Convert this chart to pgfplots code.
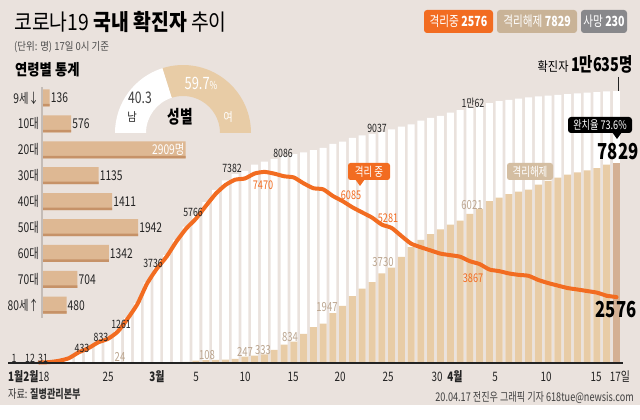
\documentclass[border=0pt]{standalone}
\usepackage{fontspec}
\usepackage{graphicx}
\usepackage{pgfplots}
\usepackage{pgfplotstable}
\pgfplotsset{compat=1.18}
\setmainfont{Noto Sans CJK KR}
\newfontfamily\cf[FakeStretch=0.76]{Noto Sans CJK KR}
\newfontfamily\tf[FakeStretch=0.86]{Noto Sans CJK KR}
\definecolor{bg}{RGB}{234,226,221}
\definecolor{org}{RGB}{242,108,33}
\definecolor{tanbar}{RGB}{232,204,166}
\definecolor{tanlast}{RGB}{212,176,148}
\definecolor{tanleg}{RGB}{201,179,151}
\definecolor{tanlab}{RGB}{212,190,162}
\definecolor{graylg}{RGB}{136,136,139}
\definecolor{agebar}{RGB}{222,184,147}
\definecolor{agestr}{RGB}{198,146,104}
\definecolor{reltxt}{RGB}{188,166,144}
\definecolor{dtxt}{RGB}{35,35,35}
\definecolor{panline}{RGB}{196,188,183}
\newcommand{\fs}[1]{\fontsize{#1}{#1}\selectfont}

% day index from 18 Feb (0) to 17 Apr (59); confirmed, released, isolated
\pgfplotstableread{
d c r i
0 31 12 19
1 51 16 35
2 104 16 87
3 204 16 187
4 433 16 415
5 602 18 578
6 833 18 807
7 977 22 945
8 1261 24 1225
9 1766 25 1728
10 2337 27 2297
11 3150 28 3105
12 3736 30 3688
13 4212 31 4159
14 4812 34 4750
15 5328 41 5255
16 5766 88 5643
17 6284 108 6134
18 6767 118 6605
19 7134 130 6954
20 7382 166 7165
21 7513 247 7212
22 7755 288 7407
23 7869 333 7470
24 7979 510 7402
25 8086 714 7300
26 8162 834 7253
27 8236 1137 7024
28 8320 1407 6832
29 8413 1540 6789
30 8565 1947 6527
31 8652 2233 6325
32 8799 2612 6085
33 8897 2909 5884
34 8961 3166 5684
35 9037 3507 5410
36 9137 3730 5281
37 9241 4144 4966
38 9332 4528 4665
39 9478 4811 4523
40 9583 5033 4398
41 9661 5228 4275
42 9786 5408 4216
43 9887 5567 4155
44 9976 5828 3979
45 10062 6021 3867
46 10156 6325 3654
47 10237 6463 3591
48 10284 6598 3500
49 10331 6694 3445
50 10384 6776 3408
51 10423 6973 3246
52 10450 7117 3125
53 10480 7243 3026
54 10512 7368 2930
55 10537 7447 2873
56 10564 7534 2813
57 10591 7616 2750
58 10613 7757 2627
}\data

\begin{document}
\begin{tikzpicture}[x=1pt,y=1pt]
\fill[white] (0,0) rectangle (640,420);
\fill[bg] (0,15) rectangle (640,420);

% ---------- main chart ----------
\begin{axis}[at={(0pt,0pt)}, anchor=south west, width=640pt, height=420pt,
  scale only axis, axis lines=none, clip=false,
  xmin=-4.0389, xmax=61.401, ymin=-2228.1, ymax=14189.7,
  xtick=\empty, ytick=\empty]
\addplot[ybar, bar width=7pt, bar shift=0pt, fill=white, draw=none]
  table[x=d,y=c] {\data};
\addplot[ybar, bar width=7pt, bar shift=0pt, fill=white, draw=none]
  coordinates {(59,10635)};
\addplot[ybar, bar width=7pt, bar shift=0pt, fill=tanbar, draw=none]
  table[x=d,y=r] {\data};
\addplot[ybar, bar width=7pt, bar shift=0pt, fill=tanlast, draw=none]
  coordinates {(59,7829)};
\addplot[org, line width=4pt, line join=round, line cap=round, smooth, tension=0.35]
  table[x=d,y=i] {\data};
\addplot[org, line width=4pt, line join=round, line cap=round]
  coordinates {(58,2627) (59,2576)};
\draw[dtxt, line width=1.4pt] (axis cs:-3.2,0) -- (axis cs:59.7,0);
\end{axis}

% ---------- age statistics ----------
\begin{axis}[at={(43pt,102pt)}, anchor=south west, width=200pt, height=233pt,
  scale only axis, axis lines=none, clip=false,
  xmin=0, xmax=4082, ymin=-0.494, ymax=8.502,
  xtick=\empty, ytick=\empty]
\addplot[xbar, bar width=17pt, bar shift=0pt, fill=agebar, draw=none]
  coordinates {(136,8) (576,7) (2909,6) (1135,5) (1411,4) (1942,3) (1342,2) (704,1) (480,0)};
\addplot[xbar, bar width=2.5pt, bar shift=-7.25pt, fill=agestr, draw=none]
  coordinates {(136,8) (576,7) (2909,6) (1135,5) (1411,4) (1942,3) (1342,2) (704,1) (480,0)};
\begin{scope}[every node/.style={font=\cf\fs{13.5}, text=dtxt, inner sep=1pt}]
\node[anchor=west] at (axis cs:136,8) {136};
\node[anchor=west] at (axis cs:576,7) {576};
\node[anchor=east, text=white] at (axis cs:2909,6) {2909명};
\node[anchor=west] at (axis cs:1135,5) {1135};
\node[anchor=west] at (axis cs:1411,4) {1411};
\node[anchor=west] at (axis cs:1942,3) {1942};
\node[anchor=west] at (axis cs:1342,2) {1342};
\node[anchor=west] at (axis cs:704,1) {704};
\node[anchor=west] at (axis cs:480,0) {480};
\node[anchor=east, xshift=-3pt] at (axis cs:0,8) {9세↓};
\node[anchor=east, xshift=-3pt] at (axis cs:0,7) {10대};
\node[anchor=east, xshift=-3pt] at (axis cs:0,6) {20대};
\node[anchor=east, xshift=-3pt] at (axis cs:0,5) {30대};
\node[anchor=east, xshift=-3pt] at (axis cs:0,4) {40대};
\node[anchor=east, xshift=-3pt] at (axis cs:0,3) {50대};
\node[anchor=east, xshift=-3pt] at (axis cs:0,2) {60대};
\node[anchor=east, xshift=-3pt] at (axis cs:0,1) {70대};
\node[anchor=east, xshift=-3pt] at (axis cs:0,0) {80세↑};
\end{scope}
\end{axis}

% ---------- gender half donut ----------
\pgfmathsetmacro\ang{180-180*40.3/100}
\fill[white] ([shift={(183,287)}]180:68) arc[start angle=180,end angle=\ang,radius=68]
  -- ([shift={(183,287)}]\ang:37) arc[start angle=\ang,end angle=180,radius=37] -- cycle;
\fill[tanbar] ([shift={(183,287)}]\ang:68) arc[start angle=\ang,end angle=0,radius=68]
  -- ([shift={(183,287)}]0:37) arc[start angle=0,end angle=\ang,radius=37] -- cycle;

% ---------- texts in pixel coordinates ----------
\begin{scope}[x=1pt,y=-1pt,yshift=420pt]
\fill[panline] (41,87) rectangle (43,318);
\node[anchor=base west, inner sep=0] at (14,31) {\tf\fs{22.5}코로나19 {\bfseries 국내 확진자} 추이};
\node[anchor=base west, inner sep=0, text=black!70] at (14,51) {\tf\fs{11}(단위: 명) 17일 0시 기준};

\fill[org, rounded corners=3pt] (424,10) rectangle (493,33);
\node[text=white] at (458.5,21.5) {\cf\fs{14}격리중 \textbf{2576}};
\fill[tanleg, rounded corners=3pt] (497,10) rectangle (577,33);
\node[text=white] at (537,21.5) {\cf\fs{14}격리해제 \textbf{7829}};
\fill[graylg, rounded corners=3pt] (581,10) rectangle (627,33);
\node[text=white] at (604,21.5) {\cf\fs{14}사망 \textbf{230}};

\node[anchor=base west, inner sep=0] at (15,76) {\tf\fs{15.5}\bfseries 연령별 통계};

% donut texts
\node[text=black!75] at (140,98) {\cf\fs{16}40.3};
\node[text=black!85] at (132,117) {\tf\fs{12}남};
\node[text=white] at (201,83) {\cf\fs{17}59.7{\fs{11}\%}};
\node[text=white] at (228,117) {\tf\fs{12}여};
\node[text=black] at (180,117) {\cf\fs{18}\bfseries 성별};

% confirmed labels
\begin{scope}[every node/.style={font=\cf\fs{11.5}, text=dtxt, inner sep=0}]
\node at (14,358) {1};
\node at (30,358) {12};
\node at (43,358) {31};
\node at (82,348) {433};
\node at (101,337) {833};
\node at (121,324) {1261};
\node at (153,263) {3736};
\node at (193,212) {5766};
\node at (232,168) {7382};
\node at (283,153) {8086};
\node at (377,128) {9037};
\node at (473,103) {1만62};
\end{scope}
% released labels
\begin{scope}[every node/.style={font=\cf\fs{12.5}, text=reltxt, inner sep=0}]
\node at (120,357) {24};
\node at (207,355) {108};
\node at (245,352) {247};
\node at (263,350) {333};
\node at (290,337) {834};
\node at (327,307) {1947};
\node at (383,262) {3730};
\node at (472,205) {6021};
\end{scope}
% isolated labels
\begin{scope}[every node/.style={font=\cf\fs{12}, text=org, inner sep=0}]
\node at (263,185) {7470};
\node at (351,195) {6085};
\node at (388,218) {5281};
\node at (473,278) {3867};
\end{scope}

% x axis labels
\begin{scope}[every node/.style={font=\cf\fs{13}, text=dtxt, inner sep=0}]
\node[anchor=west] at (8,377) {\textbf{1월2월}18};
\node at (108,377) {25};
\node at (157,377) {\textbf{3월}};
\node at (196,377) {5};
\node at (245,377) {10};
\node at (293,377) {15};
\node at (340,377) {20};
\node at (388,377) {25};
\node at (437,377) {30};
\node at (455,377) {\textbf{4월}};
\node at (495,377) {5};
\node at (546,377) {10};
\node at (596,377) {15};
\node at (620,377) {17일};
\end{scope}

% right side annotations
\node[anchor=base east, inner sep=0] at (633,72) {\tf\fs{13}확진자 {\cf\fs{19}\bfseries 1만635명}};
\draw[dtxt, line width=0.8pt] (618,77) -- (618,91);
\fill[black, rounded corners=3pt] (568,117) rectangle (632,133);
\fill[black] (612,132) -- (622,132) -- (617,139) -- cycle;
\node[text=white, inner sep=0] at (600,125) {\cf\fs{12}완치율 73.6\%};
\node[inner sep=0] at (618,152) {\cf\fs{22}\bfseries 7829};
\node[inner sep=0] at (616,310) {\cf\fs{22}\bfseries 2576};

\fill[org, rounded corners=2.5pt] (348,163) rectangle (390,180);
\fill[org] (355,179) -- (365,179) -- (360,186) -- cycle;
\node[text=white, inner sep=0] at (369,171.5) {\cf\fs{12.5}격리 중};
\fill[tanlab, rounded corners=2.5pt] (507,163) rectangle (553,180);
\node[text=white, inner sep=0] at (530,171.5) {\cf\fs{12.5}격리해제};

% footer
\node[anchor=west, inner sep=0, text=black!80] at (8,394) {\cf\fs{12}자료: \textbf{질병관리본부}};
\node[anchor=east, inner sep=0, text=black!75] at (634,398) {\cf\fs{12}20.04.17 전진우 그래픽 기자 618tue@newsis.com};
\end{scope}

\pgfresetboundingbox
\useasboundingbox (0,0) rectangle (640,420);
\end{tikzpicture}
\end{document}
